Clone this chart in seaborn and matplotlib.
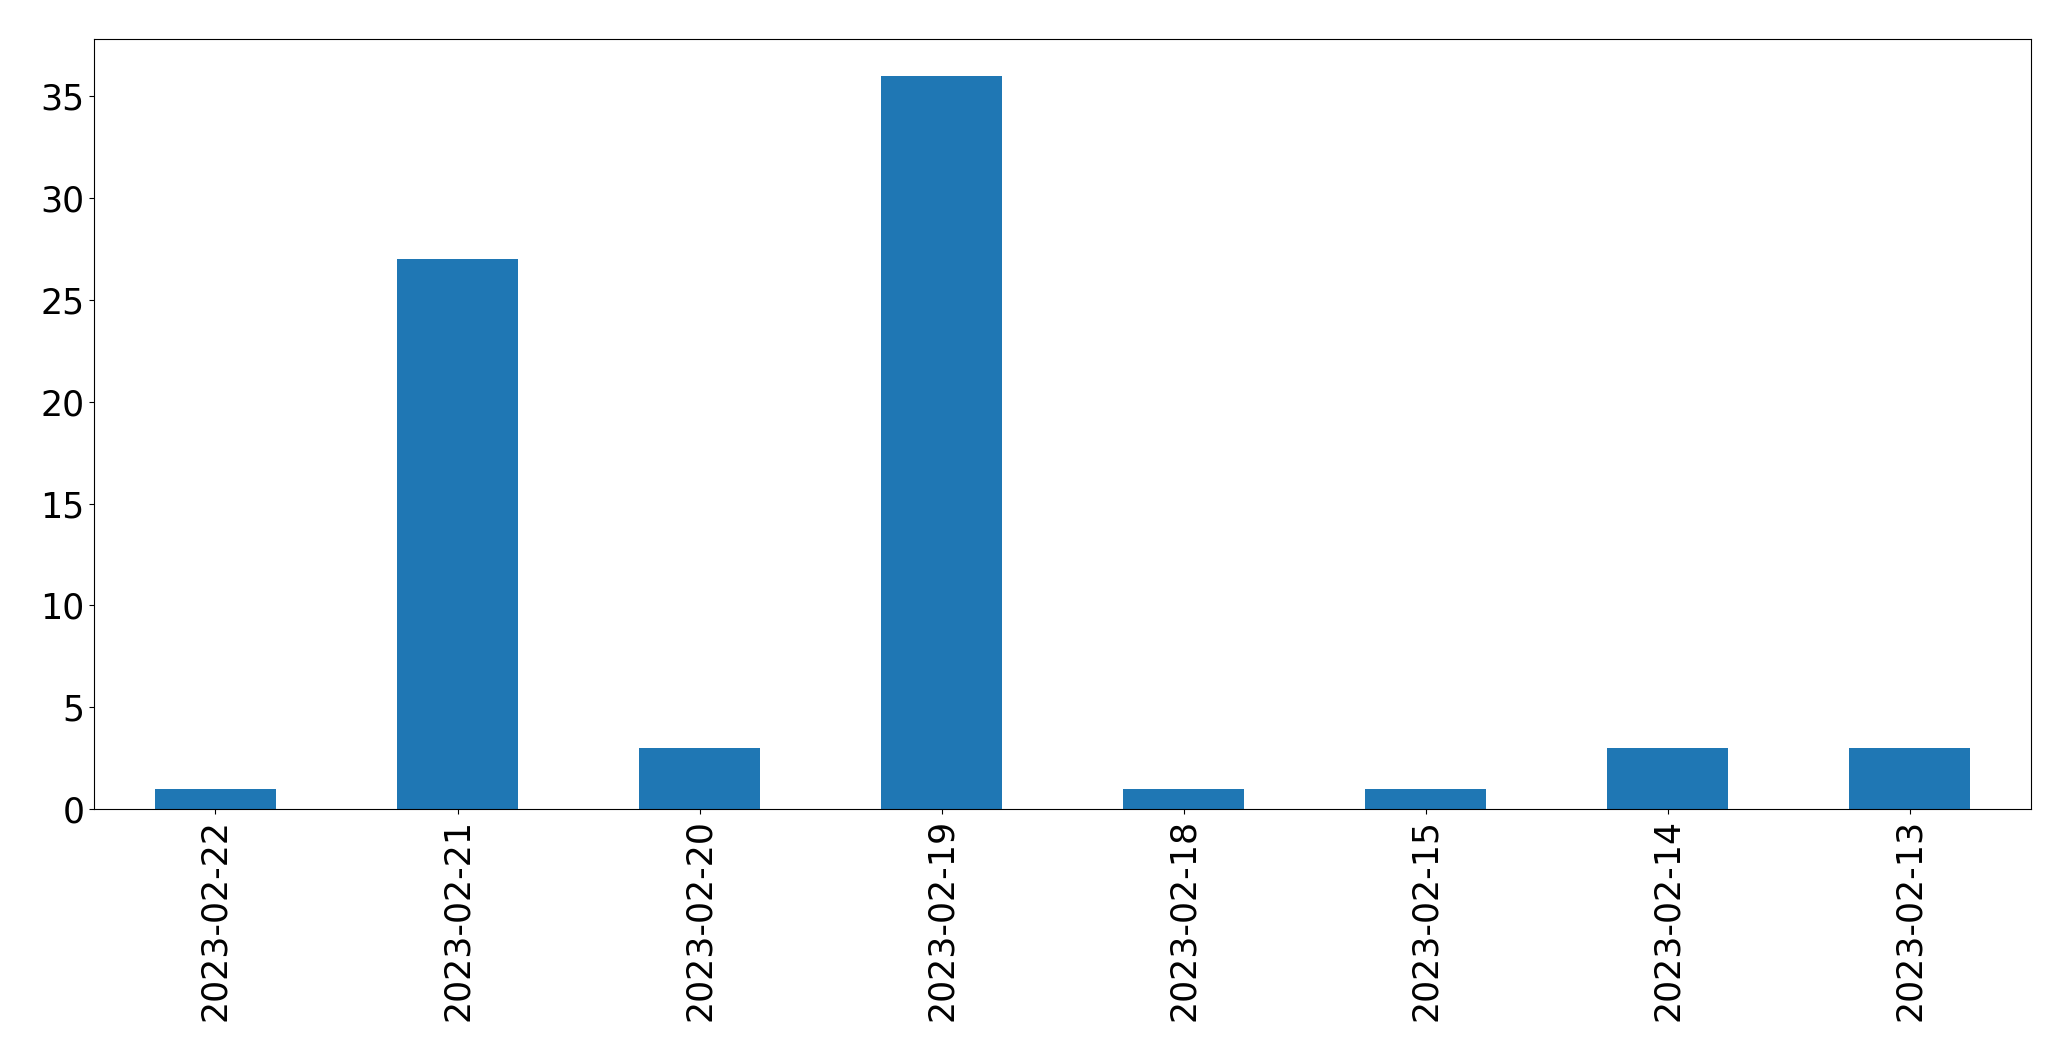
import pandas as pd
import seaborn as sns
import matplotlib.pyplot as plt

# Counts per day
dates = ['2023-02-22', '2023-02-21', '2023-02-20', '2023-02-19',
         '2023-02-18', '2023-02-15', '2023-02-14', '2023-02-13']
counts = [1, 27, 3, 36, 1, 1, 3, 3]

df = pd.DataFrame({'date': dates, 'count': counts})

fig = plt.figure(figsize=(20.71, 10.61), dpi=100)
ax = fig.add_axes([0.0456, 0.2375, 0.935, 0.7253])

sns.barplot(data=df, x='date', y='count', order=dates, color='#1f77b4',
            saturation=1, width=0.5, ax=ax)

ax.set_xlim(-0.5, len(dates) - 0.5)
ax.set_ylim(0, max(counts) * 1.05)
ax.set_xlabel('')
ax.set_ylabel('')
ax.tick_params(axis='both', labelsize=25)
ax.tick_params(axis='x', labelrotation=90)

plt.savefig('out.png', dpi=100)
